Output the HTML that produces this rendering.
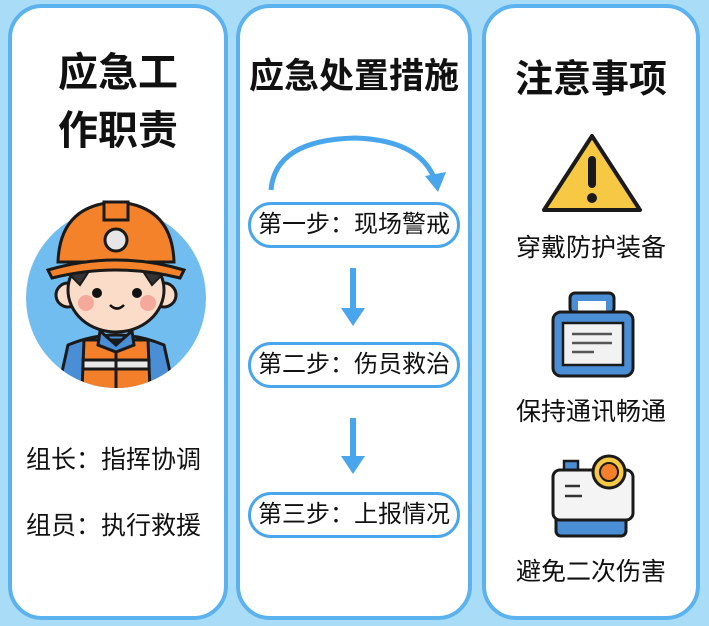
<!DOCTYPE html>
<html><head><meta charset="utf-8"><style>
body{margin:0;width:709px;height:626px;background:#a9dcf6;position:relative;overflow:hidden;font-family:"Liberation Sans","Noto Sans CJK SC",sans-serif;color:#111}
.p{position:absolute;background:#fff;border:4px solid #5cb2ee;border-radius:34px;box-sizing:border-box}
.t{position:absolute;left:0;right:0;text-align:center;font-weight:bold}
.s{position:absolute;left:248px;width:212px;height:46px;border:3px solid #4aa6ec;border-radius:24px;box-sizing:border-box;font-size:24px;text-align:center;line-height:40px;background:#fff}
.l{position:absolute;font-size:25px;white-space:nowrap}
</style></head><body>
<div class="p" style="left:8px;top:4px;width:220px;height:616px"></div>
<div class="p" style="left:236px;top:4px;width:236px;height:616px"></div>
<div class="p" style="left:482px;top:4px;width:218px;height:616px"></div>

<div class="t" style="left:10px;width:216px;top:44px;font-size:40px;line-height:58px">应急工<br>作职责</div>
<div class="t" style="left:238px;width:232px;top:48px;font-size:35px">应急处置措施</div>
<div class="t" style="left:484px;width:214px;top:48px;font-size:38px">注意事项</div>

<svg style="position:absolute;left:0;top:0" width="709" height="626">
<defs><clipPath id="c"><circle cx="116" cy="298" r="90"/></clipPath></defs>
<circle cx="116" cy="298" r="90" fill="#72bdf0"/>
<g clip-path="url(#c)" stroke="#1a1a1a" stroke-width="3">
<path d="M58 390 L68 345 Q116 325 164 345 L174 390Z" fill="#4a8ed6"/>
<path d="M82 390 L84 340 L148 340 L150 390Z" fill="#f47f2a"/>
<rect x="83" y="360" width="66" height="9" fill="#e8e8e8"/>
<line x1="116" y1="340" x2="116" y2="390"/>
<path d="M100 331 L116 345 L132 331 L134 345 L116 352 L98 345Z" fill="#4a8ed6"/>
</g>
<g stroke="#1a1a1a" stroke-width="3">
<circle cx="68" cy="295" r="12" fill="#fbdcc8"/><circle cx="164" cy="295" r="12" fill="#fbdcc8"/>
<ellipse cx="116" cy="290" rx="48" ry="42" fill="#fbdcc8"/>
<path d="M70 275 Q75 255 95 262 L80 285Z" fill="#333" stroke-width="2"/>
<path d="M162 275 Q157 255 137 262 L152 285Z" fill="#333" stroke-width="2"/>
<path d="M58 262 Q60 205 116 202 Q172 205 174 262Z" fill="#f4822a"/>
<path d="M48 270 Q116 250 184 270 L180 278 Q116 262 52 278Z" fill="#f4822a"/>
<rect x="104" y="202" width="24" height="18" fill="#f4822a"/>
<circle cx="116" cy="240" r="11" fill="#e6e6e6"/>
</g>
<circle cx="97" cy="293" r="5" fill="#111"/><circle cx="137" cy="293" r="5" fill="#111"/>
<circle cx="86" cy="303" r="8" fill="#f5a99b"/><circle cx="148" cy="303" r="8" fill="#f5a99b"/>
<path d="M110 305 Q117 312 124 305" stroke="#111" stroke-width="2.5" fill="none"/>
<path d="M271 190 Q275 140 355 138 Q420 140 435 180" stroke="#4aa6ec" stroke-width="5" fill="none"/>
<path d="M425 176 L438 192 L446 172Z" fill="#4aa6ec"/>
<line x1="353" y1="268" x2="353" y2="312" stroke="#4aa6ec" stroke-width="6"/>
<path d="M341 308 L353 326 L365 308Z" fill="#4aa6ec"/>
<line x1="353" y1="418" x2="353" y2="460" stroke="#4aa6ec" stroke-width="6"/>
<path d="M341 456 L353 474 L365 456Z" fill="#4aa6ec"/>
<path d="M592 136 L640 210 L544 210Z" fill="#f6c844" stroke="#1a1a1a" stroke-width="4" stroke-linejoin="round"/>
<rect x="588" y="156" width="8" height="32" rx="4" fill="#1a1a1a"/><circle cx="592" cy="198" r="5" fill="#1a1a1a"/>
<rect x="570" y="293" width="44" height="20" rx="5" fill="#4a8ed6" stroke="#1a1a1a" stroke-width="3"/>
<rect x="578" y="301" width="28" height="12" fill="#fff"/>
<rect x="553" y="312" width="80" height="64" rx="8" fill="#4a8ed6" stroke="#1a1a1a" stroke-width="3"/>
<rect x="563" y="323" width="60" height="42" fill="#f2f2f2" stroke="#1a1a1a" stroke-width="2.5"/>
<line x1="572" y1="334" x2="612" y2="334" stroke="#555" stroke-width="2.5"/><line x1="572" y1="343" x2="612" y2="343" stroke="#555" stroke-width="2.5"/><line x1="572" y1="352" x2="594" y2="352" stroke="#555" stroke-width="2.5"/>
<rect x="564" y="461" width="14" height="12" fill="#4a8ed6" stroke="#1a1a1a" stroke-width="2.5"/>
<rect x="556" y="502" width="70" height="34" rx="5" fill="#4a8ed6" stroke="#1a1a1a" stroke-width="3"/>
<rect x="553" y="470" width="80" height="50" rx="7" fill="#f4f4f4" stroke="#1a1a1a" stroke-width="3"/>
<line x1="565" y1="486" x2="580" y2="486" stroke="#333" stroke-width="2.5"/><line x1="565" y1="496" x2="582" y2="496" stroke="#333" stroke-width="2.5"/>
<circle cx="609" cy="472" r="16" fill="#f6c844" stroke="#1a1a1a" stroke-width="3"/><circle cx="609" cy="472" r="9" fill="#f47f2a" stroke="#1a1a1a" stroke-width="2"/>
</svg>

<div class="s" style="top:202px">第一步：现场警戒</div>
<div class="s" style="top:342px">第二步：伤员救治</div>
<div class="s" style="top:492px">第三步：上报情况</div>

<div class="l" style="left:26px;top:440px">组长：指挥协调</div>
<div class="l" style="left:26px;top:506px">组员：执行救援</div>
<div class="l" style="left:484px;width:214px;text-align:center;top:228px">穿戴防护装备</div>
<div class="l" style="left:484px;width:214px;text-align:center;top:392px">保持通讯畅通</div>
<div class="l" style="left:484px;width:214px;text-align:center;top:552px">避免二次伤害</div>
</body></html>
